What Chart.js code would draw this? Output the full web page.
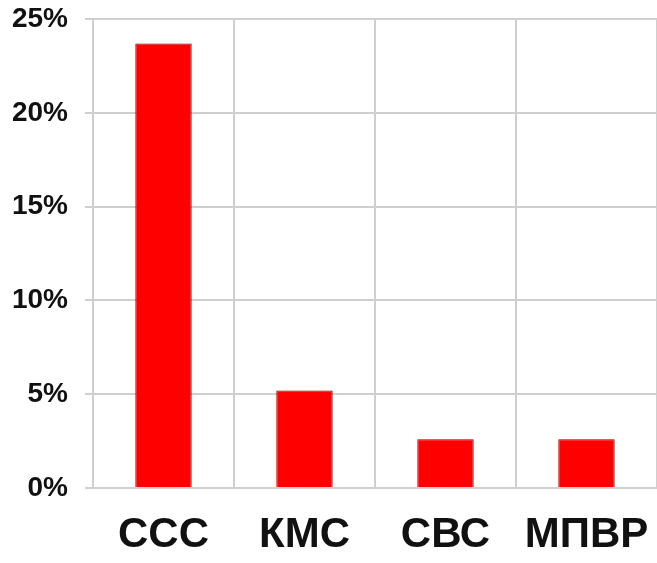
<!DOCTYPE html>
<html>
<head>
<meta charset="utf-8">
<script src="https://cdn.jsdelivr.net/npm/chart.js@4/dist/chart.umd.min.js"></script>
<style>
  html, body { margin: 0; padding: 0; background: #fff; }
  #wrap { width: 657px; height: 563px; }
</style>
</head>
<body>
<div id="wrap"><canvas id="bars" width="657" height="563"></canvas></div>
<script>
// groups and their shares, in percent
const groups = ['ССС', 'КМС', 'СВС', 'МПВР'];
const shares = [23.7, 5.2, 2.6, 2.6];
const yTicks = [0, 5, 10, 15, 20, 25];

const gridGray = '#cfcfcf';

const ctx = document.getElementById('bars');
new Chart(ctx, {
  type: 'bar',
  data: {
    labels: groups,
    datasets: [{
      data: shares,
      backgroundColor: '#ff0000',
      borderColor: '#7a0000',
      borderWidth: 1,
      barPercentage: 0.4,
      categoryPercentage: 1
    }]
  },
  options: {
    responsive: false,
    animation: false,
    layout: { padding: { top: 19, right: 0, left: 0, bottom: 0 } },
    plugins: { legend: { display: false }, tooltip: { enabled: false } },
    scales: {
      x: {
        grid: { color: gridGray, lineWidth: 2, offset: true, drawTicks: false },
        border: { color: gridGray, width: 2 },
        ticks: {
          padding: 22,
          color: '#111',
          font: { family: 'Liberation Sans', weight: 'bold', size: 42 }
        },
        // keep the plot running to the right edge
        afterFit: (scale) => { scale.height = 75; scale.paddingLeft = 0; scale.paddingRight = 0; }
      },
      y: {
        min: 0,
        max: 25,
        afterBuildTicks: (scale) => { scale.ticks = yTicks.map(v => ({ value: v })); },
        grid: { color: gridGray, lineWidth: 2, tickLength: 8 },
        border: { color: gridGray, width: 2 },
        ticks: {
          padding: 17,
          color: '#111',
          font: { family: 'Liberation Sans', weight: 'bold', size: 28 },
          callback: (v) => v + '%'
        },
        afterFit: (scale) => { scale.width = 93; scale.paddingTop = 0; scale.paddingBottom = 0; }
      }
    }
  }
});
</script>
</body>
</html>
